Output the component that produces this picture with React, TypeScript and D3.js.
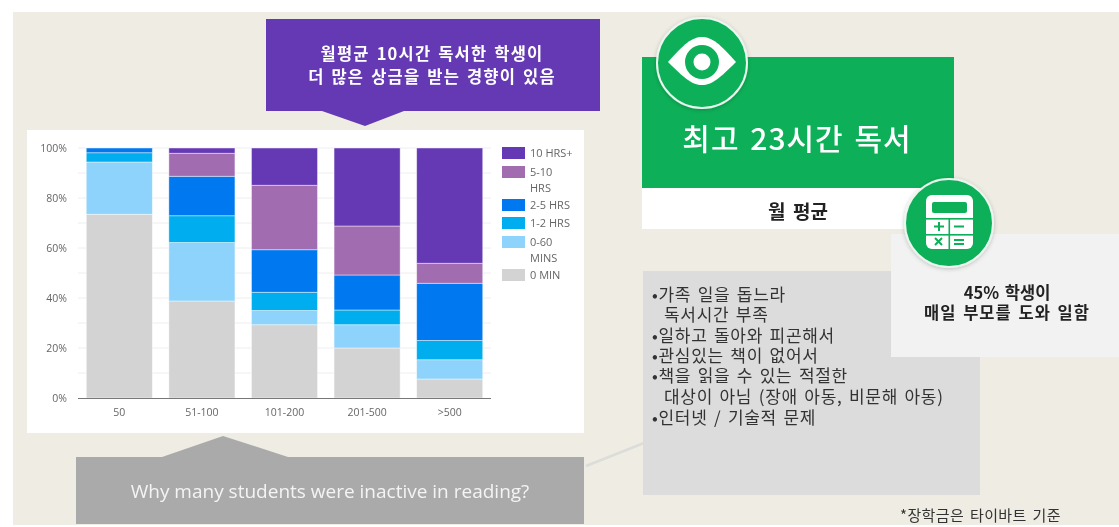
import React from "react";
import * as d3 from "d3";

const categories = ["50", "51-100", "101-200", "201-500", ">500"];
const seriesKeys = ["0 MIN", "0-60 MINS", "1-2 HRS", "2-5 HRS", "5-10 HRS", "10 HRS+"];
const min0 = [73.5, 38.8, 29.3, 20, 7.6];
const mins60 = [20.9, 23.4, 5.7, 9.3, 7.7];
const hrs12 = [3.7, 10.7, 7.3, 5.9, 7.7];
const hrs25 = [1.9, 15.8, 17, 14, 22.9];
const hrs510 = [0, 9.2, 25.8, 19.6, 8];
const hrs10 = [0, 2.1, 14.9, 31.2, 46.1];
const seriesValues = [min0, mins60, hrs12, hrs25, hrs510, hrs10];
const seriesColors = ["#d3d3d3", "#8dd3fb", "#00aeef", "#0078ef", "#a26db0", "#6539b4"];
const yTicks = [0, 20, 40, 60, 80, 100];
const yGrid = [10, 20, 30, 40, 50, 60, 70, 80, 90, 100];
const legendRows = [
  { key: "10 HRS+", lines: ["10 HRS+"], y: 147 },
  { key: "5-10 HRS", lines: ["5-10", "HRS"], y: 166 },
  { key: "2-5 HRS", lines: ["2-5 HRS"], y: 199 },
  { key: "1-2 HRS", lines: ["1-2 HRS"], y: 217 },
  { key: "0-60 MINS", lines: ["0-60", "MINS"], y: 236 },
  { key: "0 MIN", lines: ["0 MIN"], y: 269 },
];
const calloutTop = ["월평균 10시간 독서한 학생이", "더 많은 상금을 받는 경향이 있음"];
const reasons = [
  { t: "•가족 일을 돕느라", x: 652, y: 301 },
  { t: "독서시간 부족", x: 664, y: 321 },
  { t: "•일하고 돌아와 피곤해서", x: 652, y: 342 },
  { t: "•관심있는 책이 없어서", x: 652, y: 362 },
  { t: "•책을 읽을 수 있는 적절한", x: 652, y: 382 },
  { t: "대상이 아님 (장애 아동, 비문해 아동)", x: 664, y: 403 },
  { t: "•인터넷 / 기술적 문제", x: 652, y: 424 },
];

const KR = "'Noto Sans CJK KR', 'Noto Sans', sans-serif";
const LAT = "'Open Sans', 'Noto Sans', sans-serif";

export default function App() {
  const x = d3.scaleBand<string>().domain(categories).range([78, 491]).paddingInner(0.2).paddingOuter(0.1);
  const y = d3.scaleLinear().domain([0, 100]).range([398, 148]);
  const rows = categories.map((c, i) => {
    const r: Record<string, number | string> = { c };
    seriesKeys.forEach((k, s) => (r[k] = seriesValues[s][i]));
    return r;
  });
  const stacked = d3.stack<any>().keys(seriesKeys)(rows);
  const colorOf = d3.scaleOrdinal<string, string>().domain(seriesKeys).range(seriesColors);

  return (
    <svg width={1119} height={527} style={{ position: "absolute", left: 0, top: 0, display: "block" }}>
      <defs>
        <filter id="soft" x="-5%" y="-5%" width="110%" height="110%">
          <feGaussianBlur stdDeviation="0.5" />
        </filter>
        <filter id="shadow" x="-20%" y="-20%" width="140%" height="140%">
          <feDropShadow dx="0" dy="1" stdDeviation="2" floodColor="#000" floodOpacity="0.22" />
        </filter>
      </defs>
      <rect width={1119} height={527} fill="#ffffff" />
      <g filter="url(#soft)">
        <rect x={13} y={12} width={1106} height={513} fill="#efece4" />

        <line x1={586} y1={466} x2={644} y2={443} stroke="#dcdcd8" strokeWidth={2.5} />

        <rect x={27} y={130} width={557} height={303} fill="#ffffff" />
        {yGrid.map((t) => (
          <line key={t} x1={78} x2={491} y1={y(t)} y2={y(t)} stroke="#eeeeee" strokeWidth={1} />
        ))}
        {stacked.map((s) => (
          <g key={s.key} fill={colorOf(s.key)}>
            {s.map((d, i) =>
              d[1] - d[0] > 0 ? (
                <rect
                  key={i}
                  x={x(categories[i])}
                  width={x.bandwidth()}
                  y={y(d[1])}
                  height={y(d[0]) - y(d[1])}
                  stroke="#ffffff"
                  strokeOpacity={0.55}
                  strokeWidth={0.8}
                />
              ) : null
            )}
          </g>
        ))}
        <line x1={78} x2={491} y1={398.5} y2={398.5} stroke="#777777" strokeWidth={1} />
        {yTicks.map((t) => (
          <text key={t} x={67} y={y(t) + 4} textAnchor="end" fontFamily={LAT} fontSize={10.5} fill="#666666">
            {t}%
          </text>
        ))}
        {categories.map((c) => (
          <text
            key={c}
            x={(x(c) as number) + x.bandwidth() / 2}
            y={416}
            textAnchor="middle"
            fontFamily={LAT}
            fontSize={10.5}
            fill="#666666"
          >
            {c}
          </text>
        ))}
        {legendRows.map((l) => (
          <g key={l.key}>
            <rect x={502} y={l.y} width={23} height={12} fill={colorOf(l.key)} />
            {l.lines.map((t, i) => (
              <text key={t} x={530} y={l.y + 10 + i * 16} fontFamily={LAT} fontSize={11} fill="#666666">
                {t}
              </text>
            ))}
          </g>
        ))}

        <path
          d={d3.line()([[266, 19], [600, 19], [600, 111], [404, 111], [365, 126], [322, 111], [266, 111]]) + "Z"}
          fill="#6539b4"
        />
        {calloutTop.map((t, i) => (
          <text
            key={t}
            x={432}
            y={60 + i * 23}
            textAnchor="middle"
            fontFamily={KR}
            fontWeight={700}
            fontSize={16.5}
            letterSpacing={1.2}
            wordSpacing={2}
            fill="#ffffff"
          >
            {t}
          </text>
        ))}

        <path
          d={d3.line()([[76, 457], [162, 457], [223, 436], [288, 457], [584, 457], [584, 524], [76, 524]]) + "Z"}
          fill="#aaaaaa"
        />
        <text x={330} y={498} textAnchor="middle" fontFamily={LAT} fontSize={19} fill="#f4f4f4">
          Why many students were inactive in reading?
        </text>

        <rect x={643} y={271} width={337} height={224} fill="#dcdcdc" />
        {reasons.map((r) => (
          <text key={r.t} x={r.x} y={r.y} fontFamily={KR} fontSize={17} letterSpacing={0.7} wordSpacing={2} fill="#333333">
            {r.t}
          </text>
        ))}

        <rect x={642} y={57} width={312} height={131} fill="#0db058" />
        <rect x={642} y={188} width={312} height={41} fill="#ffffff" />
        <text x={797} y={150} textAnchor="middle" fontFamily={KR} fontWeight={500} fontSize={30} letterSpacing={1} wordSpacing={3} fill="#ffffff">
          최고 23시간 독서
        </text>
        <text x={798} y={219} textAnchor="middle" fontFamily={KR} fontWeight={700} fontSize={19} wordSpacing={3} fill="#222222">
          월 평균
        </text>

        <rect x={891} y={234} width={228} height={123} fill="#f2f2f2" />
        <text x={1007} y={299} textAnchor="middle" fontFamily={KR} fontWeight={700} fontSize={16.5} wordSpacing={2} fill="#222222">
          45% 학생이
        </text>
        <text x={1007} y={319} textAnchor="middle" fontFamily={KR} fontWeight={700} fontSize={16.5} letterSpacing={1} wordSpacing={2} fill="#222222">
          매일 부모를 도와 일함
        </text>

        <text x={900} y={521} fontFamily={KR} fontSize={15} letterSpacing={0.4} wordSpacing={2} fill="#333333">
          *장학금은 타이바트 기준
        </text>

        <g>
          <circle cx={702} cy={63} r={45} fill="#0db058" stroke="#eaf6ee" strokeWidth={2} filter="url(#shadow)" />
          <path d="M668,62 C684,44 692,37 702,37 C712,37 720,44 736,62 C720,78 712,85 702,85 C692,85 684,78 668,62 Z" fill="#ffffff" />
          <circle cx={702} cy={62} r={17} fill="#0db058" />
          <circle cx={702} cy={62} r={8.5} fill="#ffffff" />
        </g>

        <g>
          <circle cx={949} cy={223} r={44} fill="#0db058" stroke="#eaf6ee" strokeWidth={2} filter="url(#shadow)" />
          <rect x={926} y={195} width={47} height={54} rx={6} fill="#ffffff" />
          <rect x={932} y={202} width={35} height={11} rx={2} fill="#0db058" />
          <rect x={926} y={218} width={47} height={1.6} fill="#0db058" />
          <rect x={926} y={234} width={47} height={1.6} fill="#0db058" />
          <rect x={948.5} y={218} width={1.6} height={31} fill="#0db058" />
          <path d="M934,226.5h10M939,222v9M954,226.5h10M935,238l7,7M942,238l-7,7M954,240h10M954,244h10" stroke="#0db058" strokeWidth={2} fill="none" />
        </g>
      </g>
    </svg>
  );
}
